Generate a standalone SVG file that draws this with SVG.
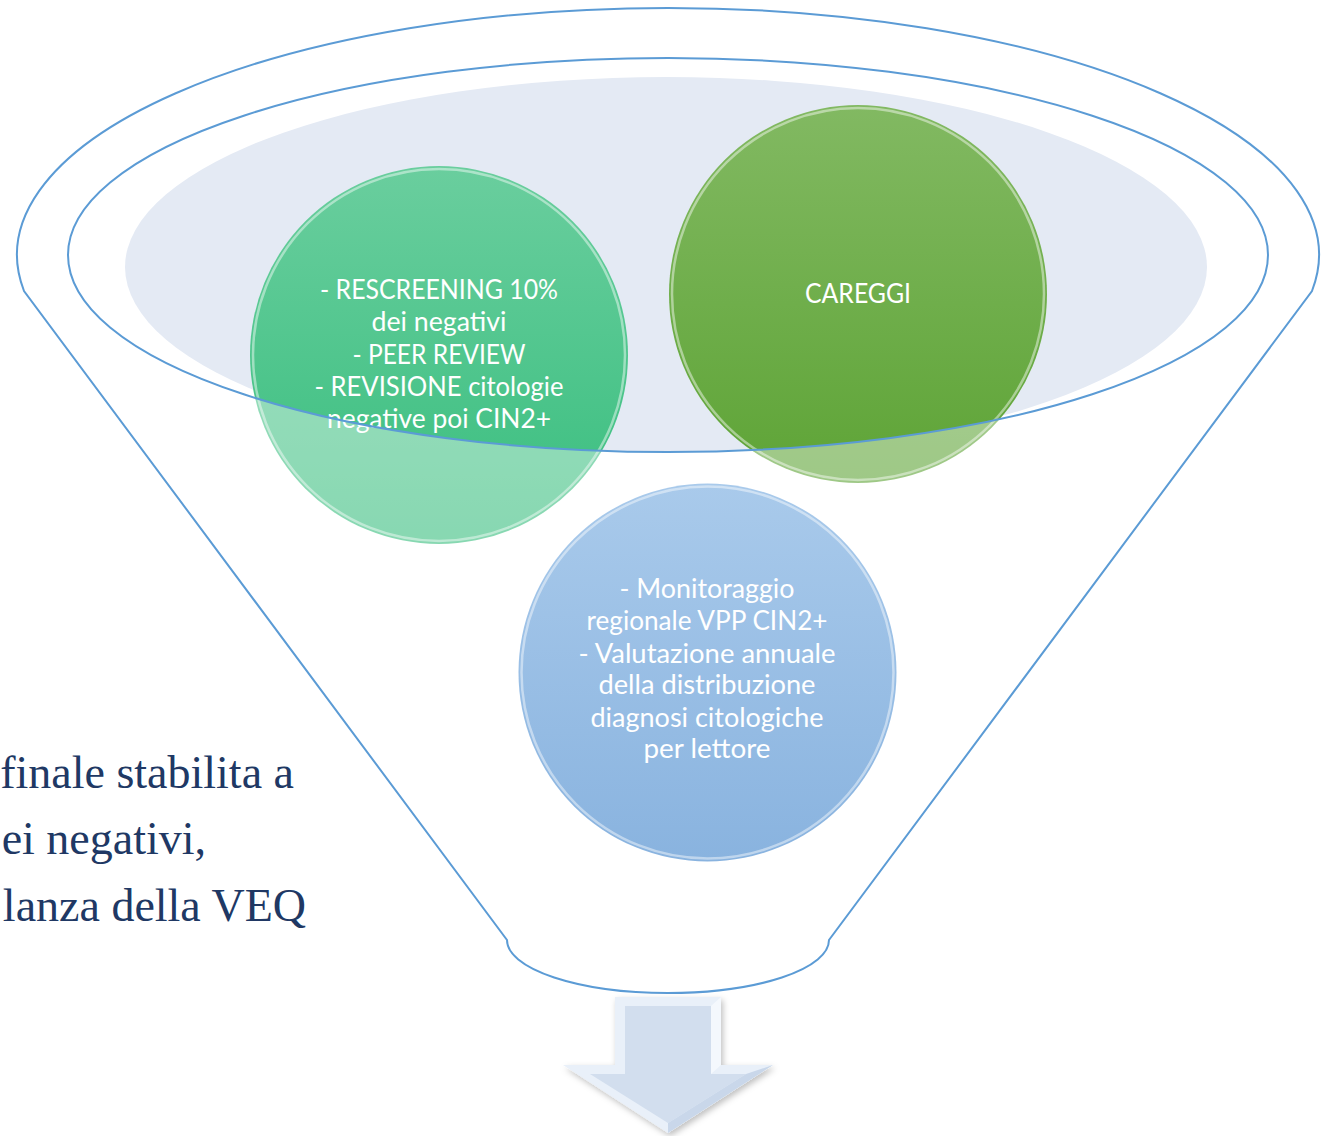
<svg xmlns="http://www.w3.org/2000/svg" width="1331" height="1136" viewBox="0 0 1331 1136">
  <defs>
    <style>
      .rim { fill: none; stroke: #5B9BD5; stroke-width: 2; }
      .ctext { font-family: Lato, "Open Sans", sans-serif; font-size: 26px; fill: #FFFFFF; text-anchor: middle; }
      .side { font-family: "Liberation Serif", "Times New Roman", serif; font-size: 46px; fill: #203864; text-anchor: end; }
      .ring { fill: none; stroke: #FFFFFF; stroke-opacity: 0.45; stroke-width: 2.5; }
    </style>
    <linearGradient id="gTeal" x1="0" y1="0" x2="0" y2="1">
      <stop offset="0" stop-color="#6ACE9E"/>
      <stop offset="1" stop-color="#38BE7E"/>
    </linearGradient>
    <linearGradient id="gGreen" x1="0" y1="0" x2="0" y2="1">
      <stop offset="0" stop-color="#82B962"/>
      <stop offset="1" stop-color="#5EA436"/>
    </linearGradient>
    <linearGradient id="gBlue" x1="0" y1="0" x2="0" y2="1">
      <stop offset="0" stop-color="#A9CAEB"/>
      <stop offset="1" stop-color="#89B3DF"/>
    </linearGradient>
    <clipPath id="innerClip">
      <ellipse cx="668" cy="255" rx="600" ry="197"/>
    </clipPath>
    <filter id="shadow" x="-20%" y="-20%" width="140%" height="140%">
      <feDropShadow dx="2" dy="3" stdDeviation="3" flood-color="#000000" flood-opacity="0.25"/>
    </filter>
  </defs>

  <!-- funnel interior fill -->
  <g id="funnel-fill">
    <ellipse cx="666" cy="267" rx="541" ry="190" fill="#E4EAF4" clip-path="url(#innerClip)"/>
  </g>

  <!-- circle nodes (behind funnel front) -->
  <g id="node-rescreening">
    <circle cx="439" cy="355" r="189" fill="url(#gTeal)"/>
    <circle cx="439" cy="355" r="186" class="ring"/>
    <text class="ctext" x="439" y="299" textLength="238" lengthAdjust="spacingAndGlyphs">- RESCREENING 10%</text>
    <text class="ctext" x="439" y="331" textLength="135" lengthAdjust="spacingAndGlyphs">dei negativi</text>
    <text class="ctext" x="439" y="364" textLength="173" lengthAdjust="spacingAndGlyphs">- PEER REVIEW</text>
    <text class="ctext" x="439" y="396" textLength="249" lengthAdjust="spacingAndGlyphs">- REVISIONE citologie</text>
    <text class="ctext" x="439" y="428" textLength="224" lengthAdjust="spacingAndGlyphs">negative poi CIN2+</text>
  </g>

  <g id="node-careggi">
    <circle cx="858" cy="294" r="189" fill="url(#gGreen)"/>
    <circle cx="858" cy="294" r="186" class="ring"/>
    <text class="ctext" x="858" y="303" textLength="106" lengthAdjust="spacingAndGlyphs">CAREGGI</text>
  </g>

  <!-- semi-transparent funnel front -->
  <g id="funnel-front">
    <path fill="#FFFFFF" fill-opacity="0.4" fill-rule="evenodd"
      d="M24,291 A651,247 0 1 1 1312,291 L829,940 A161,53 0 0 1 507,940 Z
         M68,255 A600,197 0 1 0 1268,255 A600,197 0 1 0 68,255 Z"/>
  </g>

  <g id="node-monitoraggio">
    <circle cx="707.5" cy="672.5" r="189" fill="url(#gBlue)"/>
    <circle cx="707.5" cy="672.5" r="186" class="ring"/>
    <text class="ctext" x="707" y="598" textLength="175" lengthAdjust="spacingAndGlyphs">- Monitoraggio</text>
    <text class="ctext" x="707" y="630" textLength="241" lengthAdjust="spacingAndGlyphs">regionale VPP CIN2+</text>
    <text class="ctext" x="707" y="663" textLength="257" lengthAdjust="spacingAndGlyphs">- Valutazione annuale</text>
    <text class="ctext" x="707" y="694" textLength="217" lengthAdjust="spacingAndGlyphs">della distribuzione</text>
    <text class="ctext" x="707" y="727" textLength="233" lengthAdjust="spacingAndGlyphs">diagnosi citologiche</text>
    <text class="ctext" x="707" y="758" textLength="127" lengthAdjust="spacingAndGlyphs">per lettore</text>
  </g>

  <!-- funnel outlines -->
  <g id="funnel-outline">
    <ellipse class="rim" cx="668" cy="255" rx="600" ry="197"/>
    <path class="rim" d="M24,291 A651,247 0 1 1 1312,291 L829,940 A161,53 0 0 1 507,940 Z"/>
  </g>

  <!-- left text (partially cut off) -->
  <g id="side-text">
    <text class="side" x="294" y="788">finale stabilita a</text>
    <text class="side" x="206" y="854">ei negativi,</text>
    <text class="side" x="306" y="921">lanza della VEQ</text>
  </g>

  <!-- down arrow -->
  <g id="connectors">
    <g id="arrow" filter="url(#shadow)">
      <polygon points="615,997 721,997 721,1065 773,1065 668,1133 563,1065 615,1065" fill="#E9F0F9"/>
      <polygon points="625,1006 711,1006 711,1074 746,1074 668,1123 590,1074 625,1074" fill="#D2DEEE"/>
      <polygon points="711,1006 721,997 721,1065 711,1074" fill="#F4F8FD"/>
      <polygon points="746,1074 773,1065 668,1133 668,1123" fill="#C9D7EA"/>
    </g>
  </g>
</svg>
